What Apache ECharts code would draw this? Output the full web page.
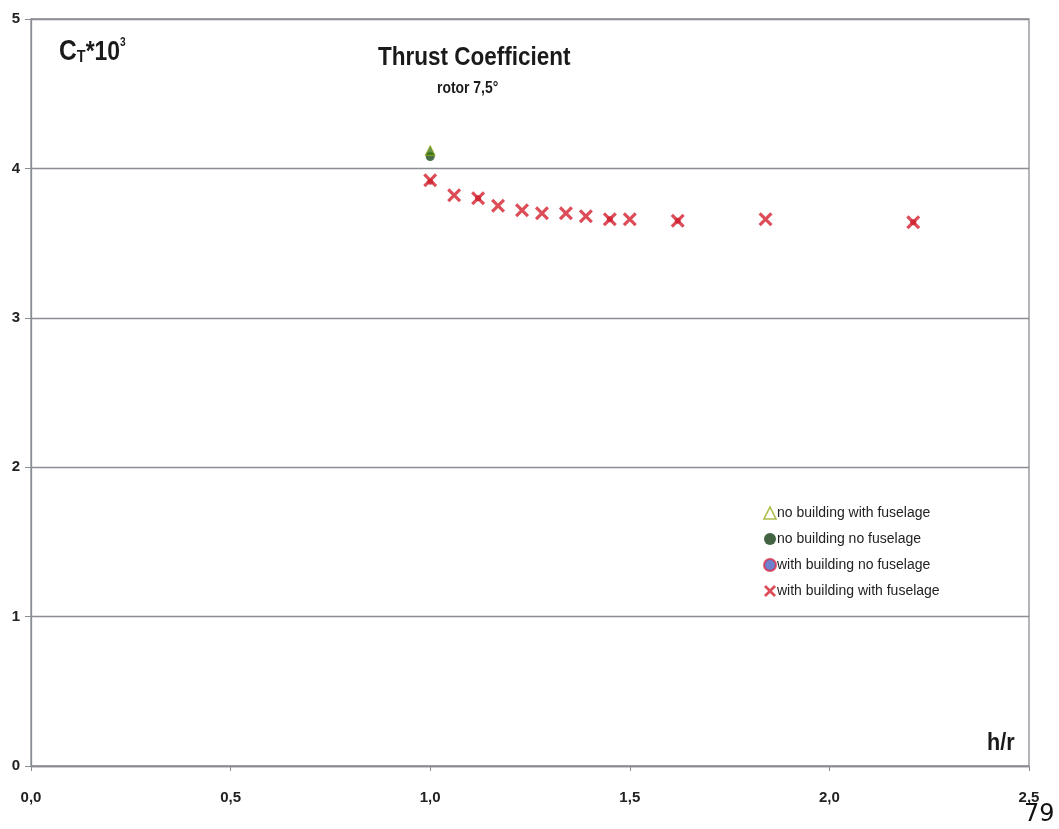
<!DOCTYPE html>
<html>
<head>
<meta charset="utf-8">
<script src="https://cdn.jsdelivr.net/npm/echarts@6/dist/echarts.min.js"></script>
<style>
html,body{margin:0;padding:0;background:#fff;}
#chart{width:1059px;height:829px;}
</style>
</head>
<body>
<div id="chart"></div>
<script>
// ---- data ----
var seriesNames = ['no building with fuselage', 'no building no fuselage', 'with building no fuselage', 'with building with fuselage'];
var hrNoBldFus = [1.00];
var ctNoBldFus = [4.12];
var hrNoBldNoFus = [1.00];
var ctNoBldNoFus = [4.08];
var hrBldNoFus = [1.00, 1.12, 1.45, 1.62, 2.21];
var ctBldNoFus = [3.91, 3.80, 3.66, 3.65, 3.64];
var hrBldFus = [1.00, 1.06, 1.12, 1.17, 1.23, 1.28, 1.34, 1.39, 1.45, 1.50, 1.62, 1.84, 2.21];
var ctBldFus = [3.92, 3.82, 3.80, 3.75, 3.72, 3.70, 3.70, 3.68, 3.66, 3.66, 3.65, 3.66, 3.64];
var xTicks = [0, 0.5, 1.0, 1.5, 2.0, 2.5];
var yTicks = [0, 1, 2, 3, 4, 5];

function pairs(xs, ys) { return xs.map(function (x, i) { return [x, ys[i]]; }); }

var FONT = '"Liberation Sans", Arial, sans-serif';
var CROSS = 'path://M0,1.6 L1.6,0 L5,3.4 L8.4,0 L10,1.6 L6.6,5 L10,8.4 L8.4,10 L5,6.6 L1.6,10 L0,8.4 L3.4,5 Z';
var GRID = '#8a8d94';
var RED = '#d3202e';

var chart = echarts.init(document.getElementById('chart'), null, {renderer: 'canvas'});
chart.setOption({
  animation: false,
  backgroundColor: '#ffffff',
  textStyle: {fontFamily: FONT},
  grid: {left: 31, right: 30, top: 19, bottom: 63, show: true, borderColor: GRID, borderWidth: 1.3},
  xAxis: {
    type: 'value', min: xTicks[0], max: xTicks[xTicks.length - 1], interval: 0.5,
    axisLine: {show: true, lineStyle: {color: GRID, width: 1.3}},
    axisTick: {show: true, length: 5, lineStyle: {color: GRID}},
    splitLine: {show: false},
    axisLabel: {
      margin: 24, color: '#222', fontWeight: 'bold', fontSize: 15, fontFamily: FONT,
      formatter: function (v) { return v.toFixed(1).replace('.', ','); }
    }
  },
  yAxis: {
    type: 'value', min: yTicks[0], max: yTicks[yTicks.length - 1], interval: 1,
    axisLine: {show: true, lineStyle: {color: GRID, width: 1.3}},
    axisTick: {show: true, length: 6, lineStyle: {color: GRID}},
    splitLine: {show: true, lineStyle: {color: GRID, width: 1.3}},
    axisLabel: {margin: 11, color: '#222', fontWeight: 'bold', fontSize: 15, fontFamily: FONT}
  },
  legend: {
    orient: 'vertical', left: 758, top: 501, itemGap: 12, itemWidth: 12, itemHeight: 12,
    textStyle: {fontSize: 14, color: '#222', fontFamily: FONT, padding: [0, 0, 0, -4]},
    data: [
      {name: seriesNames[0], icon: 'triangle', itemStyle: {color: '#ffffff', borderColor: '#9aab1e', borderWidth: 1.6}},
      {name: seriesNames[1], icon: 'circle', itemStyle: {color: '#143d14', borderWidth: 0}},
      {name: seriesNames[2], icon: 'circle', itemStyle: {color: '#4a5fc0', borderColor: '#d8304a', borderWidth: 2}},
      {name: seriesNames[3], icon: CROSS, itemStyle: {color: RED, borderWidth: 0}}
    ]
  },
  graphic: [
    {type: 'text', x: 378, y: 46, scaleX: 0.9, style: {text: 'Thrust Coefficient', font: 'bold 25px ' + FONT, fill: '#1a1a1a'}},
    {type: 'text', x: 437, y: 81, scaleX: 0.87, style: {text: 'rotor 7,5°', font: 'bold 16px ' + FONT, fill: '#1a1a1a'}},
    {type: 'text', x: 59, y: 37, scaleX: 0.85, style: {
      text: '{a|C}{b|T}{c|*10}{d|3}',
      rich: {
        a: {font: 'bold 29px ' + FONT, fill: '#1a1a1a', verticalAlign: 'bottom', lineHeight: 29},
        b: {font: 'bold 17px ' + FONT, fill: '#1a1a1a', verticalAlign: 'bottom', lineHeight: 29},
        c: {font: 'bold 27px ' + FONT, fill: '#1a1a1a', verticalAlign: 'bottom', lineHeight: 29},
        d: {font: 'bold 12px ' + FONT, fill: '#1a1a1a', verticalAlign: 'top', lineHeight: 29}
      }
    }},
    {type: 'text', x: 987, y: 731, scaleX: 0.9, style: {text: 'h/r', font: 'bold 24px ' + FONT, fill: '#1a1a1a'}},
    {type: 'text', x: 1024, y: 803, style: {text: '79', font: '24px "DejaVu Sans", sans-serif', fill: '#111'}}
  ],
  series: [
    {name: seriesNames[0], type: 'scatter', symbol: 'triangle', symbolSize: 10, z: 4,
     itemStyle: {color: '#3f7a1a', borderColor: '#9aab1e', borderWidth: 1}, data: pairs(hrNoBldFus, ctNoBldFus)},
    {name: seriesNames[1], type: 'scatter', symbol: 'circle', symbolSize: 9, z: 3,
     itemStyle: {color: '#1c4d1c'}, data: pairs(hrNoBldNoFus, ctNoBldNoFus)},
    {name: seriesNames[2], type: 'scatter', symbol: 'circle', symbolSize: 6, z: 2,
     itemStyle: {color: '#c01c2c'}, data: pairs(hrBldNoFus, ctBldNoFus)},
    {name: seriesNames[3], type: 'scatter', symbol: CROSS, symbolSize: 14, z: 5,
     itemStyle: {color: RED}, data: pairs(hrBldFus, ctBldFus)}
  ]
});
</script>
</body>
</html>
